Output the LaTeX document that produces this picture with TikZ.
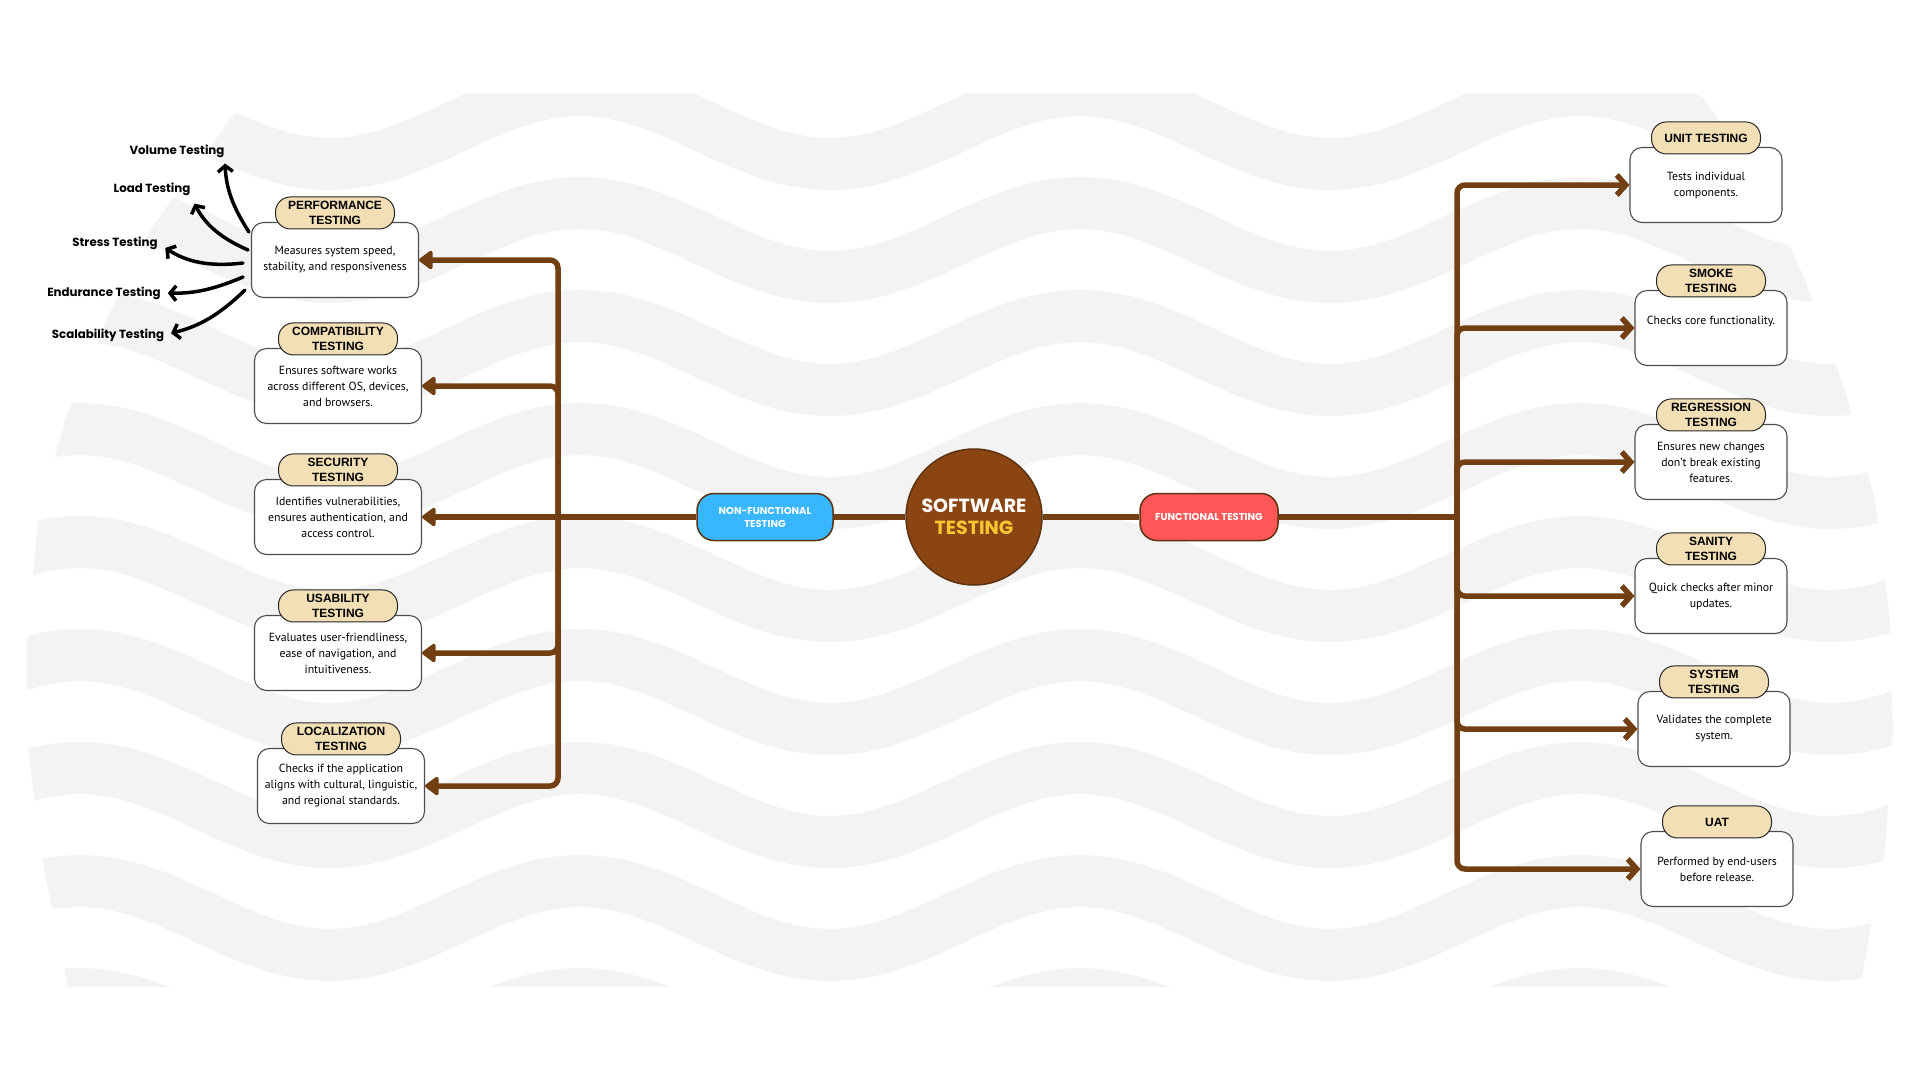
\documentclass[tikz,border=0pt]{standalone}
\usepackage{fontspec}
\setmainfont{PT Sans}
\newfontfamily\pillfont{Liberation Sans}
\newfontfamily\roundfont{Poppins}
\usetikzlibrary{arrows.meta}

\definecolor{wavegrey}{HTML}{F3F3F3}
\definecolor{linebrown}{HTML}{713F12}
\definecolor{corebrown}{HTML}{8B4513}
\definecolor{rimbrown}{HTML}{5C3310}
\definecolor{pillsand}{HTML}{F3DFB5}
\definecolor{nfblue}{HTML}{38B6FF}
\definecolor{fred}{HTML}{FF5757}
\definecolor{coregold}{HTML}{F8C630}

\tikzset{
  waveband/.style={draw=wavegrey, line width=52pt},
  leftbox/.style={draw=black!70, line width=1.1pt, fill=white, rounded corners=12pt, minimum width=167pt, minimum height=75pt, align=center, inner sep=0pt, font=\fontsize{11.8}{16}\selectfont},
  rightbox/.style={leftbox, minimum width=152pt},
  leftpill/.style={draw=black!85, line width=1pt, fill=pillsand, rounded corners=15pt, minimum width=119pt, minimum height=32pt, align=center, inner sep=0pt, font=\pillfont\bfseries\fontsize{12}{14.5}\selectfont},
  rightpill/.style={leftpill, minimum width=109pt},
  branchnode/.style={draw=rimbrown, line width=1.5pt, rounded corners=17pt, minimum width=136pt, minimum height=47pt, align=center, inner sep=0pt, text=white, font=\roundfont\bfseries\fontsize{10}{13}\selectfont},
  sublabel/.style={inner sep=0pt, font=\roundfont\bfseries\fontsize{11.8}{14}\selectfont},
  trunk/.style={draw=linebrown, line width=5.5pt, rounded corners=8pt},
  inarrow/.style={trunk, -{Triangle[width=21pt,length=15pt,round]}},
  outarrow/.style={trunk, -{Straight Barb[width=20pt,length=9pt]}},
  subarrow/.style={draw=black, line width=3.5pt, line cap=round, -{Straight Barb[width=15pt,length=6pt]}},
}

\begin{document}
\begin{tikzpicture}[x=1pt, y=-1pt]
	\useasboundingbox (0,0) rectangle (1920,1080);
	\fill[white] (0,0) rectangle (1920,1080);
	\begin{scope}
		\clip (250,93) -- (1700,93) -- (1760,180) -- (1805,280) -- (1845,390) -- (1875,500) -- (1890,620) -- (1893,730) -- (1885,850) -- (1860,987) -- (68,987) -- (42,860) -- (27,740) -- (27,640) -- (38,520) -- (65,420) -- (110,313) -- (150,230) -- (215,140) -- cycle;
		\foreach \c in {14,127,...,1031}
			\draw[waveband] plot[domain=0:1920, samples=97, smooth] (\x, {\c - 37*cos(0.72*(\x-1080))});
	\end{scope}

	\node[leftbox] (perf) at (335,260) {Measures system speed,\\stability, and responsiveness};
	\node[leftpill] (perf-h) at ([yshift=9pt]perf.north) {PERFORMANCE\\TESTING};
	\node[leftbox] (compat) at (338,386) {Ensures software works\\across different OS, devices,\\and browsers.};
	\node[leftpill] (compat-h) at ([yshift=9pt]compat.north) {COMPATIBILITY\\TESTING};
	\node[leftbox] (sec) at (338,517) {Identifies vulnerabilities,\\ensures authentication, and\\access control.};
	\node[leftpill] (sec-h) at ([yshift=9pt]sec.north) {SECURITY\\TESTING};
	\node[leftbox] (usab) at (338,653) {Evaluates user-friendliness,\\ease of navigation, and\\intuitiveness.};
	\node[leftpill] (usab-h) at ([yshift=9pt]usab.north) {USABILITY\\TESTING};
	\node[leftbox] (loc) at (341,786) {Checks if the application\\aligns with cultural, linguistic,\\and regional standards.};
	\node[leftpill] (loc-h) at ([yshift=9pt]loc.north) {LOCALIZATION\\TESTING};

	\node[rightbox] (unit) at (1706,185) {Tests individual\\components.};
	\node[rightpill] (unit-h) at ([yshift=9pt]unit.north) {UNIT TESTING};
	\node[rightbox] (smoke) at (1711,328) {Checks core functionality.\\\mbox{}};
	\node[rightpill] (smoke-h) at ([yshift=9pt]smoke.north) {SMOKE\\TESTING};
	\node[rightbox] (regr) at (1711,462) {Ensures new changes\\don't break existing\\features.};
	\node[rightpill] (regr-h) at ([yshift=9pt]regr.north) {REGRESSION\\TESTING};
	\node[rightbox] (sanity) at (1711,596) {Quick checks after minor\\updates.};
	\node[rightpill] (sanity-h) at ([yshift=9pt]sanity.north) {SANITY\\TESTING};
	\node[rightbox] (system) at (1714,729) {Validates the complete\\system.};
	\node[rightpill] (system-h) at ([yshift=9pt]system.north) {SYSTEM\\TESTING};
	\node[rightbox] (uat) at (1717,869) {Performed by end-users\\before release.};
	\node[rightpill] (uat-h) at ([yshift=9pt]uat.north) {UAT};

	\node[circle, fill=corebrown, draw=rimbrown, line width=1.5pt, minimum size=136pt, inner sep=0pt, align=center, font=\roundfont\bfseries\fontsize{19}{22}\selectfont] (core) at (974,517) {\textcolor{white}{SOFTWARE}\\\textcolor{coregold}{TESTING}};
	\node[branchnode, fill=nfblue] (nf) at (765,517) {NON-FUNCTIONAL\\TESTING};
	\node[branchnode, fill=fred, minimum width=138pt] (ft) at (1209,517) {FUNCTIONAL TESTING};

	\coordinate (lhub) at (558,517);
	\coordinate (rhub) at (1457,517);
	\draw[trunk] (nf.west) -- (lhub);
	\draw[trunk] (nf.east) -- (core.west);
	\draw[trunk] (core.east) -- (ft.west);
	\draw[trunk] (ft.east) -- (rhub);
	\draw[inarrow] (lhub) |- (perf.east);
	\draw[inarrow] (lhub) |- (compat.east);
	\draw[inarrow] (lhub) -- (sec.east);
	\draw[inarrow] (lhub) |- (usab.east);
	\draw[inarrow] (lhub) |- (loc.east);
	\draw[outarrow] (rhub) |- (unit.west);
	\draw[outarrow] (rhub) |- (smoke.west);
	\draw[outarrow] (rhub) |- (regr.west);
	\draw[outarrow] (rhub) |- (sanity.west);
	\draw[outarrow] (rhub) |- (system.west);
	\draw[outarrow] (rhub) |- (uat.west);

	\node[sublabel] (vol) at (177,151) {Volume Testing};
	\node[sublabel] (load) at (152,189) {Load Testing};
	\node[sublabel] (stress) at (115,243) {Stress Testing};
	\node[sublabel] (endur) at (104,293) {Endurance Testing};
	\node[sublabel] (scal) at (108,335) {Scalability Testing};
	\coordinate (vol-from) at (249,232);
	\coordinate (load-from) at (248,250);
	\coordinate (stress-from) at (243,263);
	\coordinate (endur-from) at (243,277);
	\coordinate (scal-from) at (245,290);
	\draw[subarrow, shorten >=6pt] (vol-from) to[bend left=15] (vol.south east);
	\draw[subarrow, shorten >=9pt] (load-from) to[bend left=20] (load.south east);
	\draw[subarrow, shorten >=9pt] (stress-from) to[bend left=20] (stress.east);
	\draw[subarrow, shorten >=7pt] (endur-from) to[bend left=12] (endur.east);
	\draw[subarrow, shorten >=7pt] (scal-from) to[bend left=15] (scal.east);
\end{tikzpicture}
\end{document}
